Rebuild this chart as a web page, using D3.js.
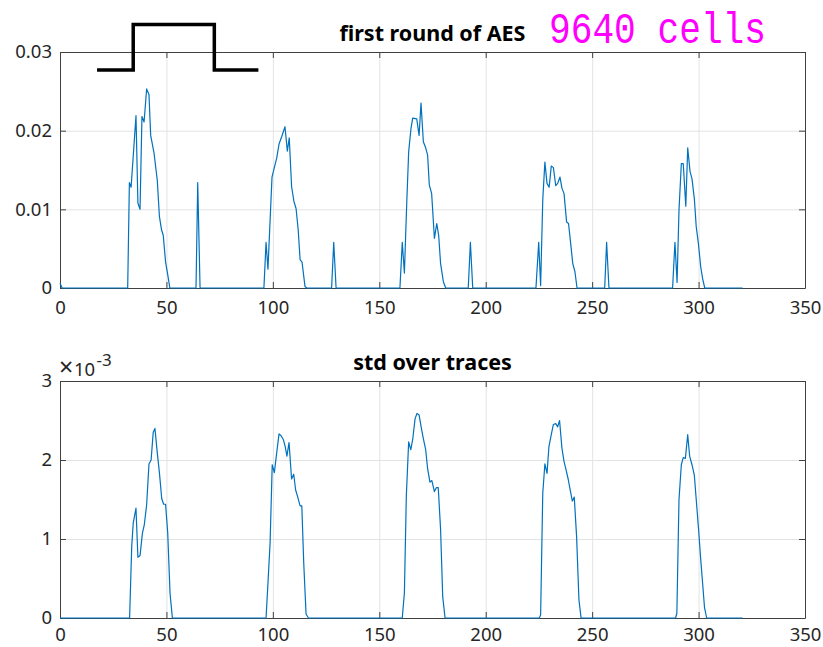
<!DOCTYPE html>
<html>
<head>
<meta charset="utf-8">
<script src="https://cdn.jsdelivr.net/npm/d3@7"></script>
<style>
  body { margin: 0; background: #fff; }
  text { font-family: "Noto Sans", "Open Sans", sans-serif; fill: #262626; }
  .grid line { stroke: #e3e3e3; stroke-width: 1; }
  .grid path { display: none; }
  .ax path, .ax line { stroke: #404040; stroke-width: 1; }
</style>
</head>
<body>
<div id="chart"></div>
<script>
// chart layout
const width = 823, height = 647;
const left = 60, right = 805;

// x ticks shared by both panels
const xTicks = [0, 50, 100, 150, 200, 250, 300, 350];

// first panel: polyline vertices
const topTicksY = [0, 0.01, 0.02, 0.03];
const topX = [0, 1,
  31.8, 32.6, 33.4, 35.7, 36.6, 37.6, 38.5, 39.5, 40.7, 41.8, 42.6, 44.2, 45.7, 46.7, 47.7, 48.5, 49.6, 50.5, 51.6,
  63.9, 64.7, 65.8,
  95.8, 96.8, 97.7, 99.6, 100.6, 101.8, 102.9, 104.1, 105.7, 106.8, 107.7, 108.8, 109.9, 110.9, 111.9, 112.8, 113.7, 115.1, 116,
  127.6, 128.6, 129.7,
  159.7, 160.8, 161.8, 162.9, 163.8, 164.9, 165.7, 167.6, 168.7, 169.6, 170.7, 171.7, 172.7, 173.5, 174.6, 175.9, 177.0, 177.9, 178.8, 180.1, 181.2,
  191.8, 192.8, 193.9,
  223.6, 224.9, 225.8, 226.8, 227.8, 228.8, 229.8, 230.8, 231.8, 232.9, 233.8, 234.9, 235.8, 236.8, 238.0, 238.9, 239.9, 240.9, 241.9, 242.9,
  255.9, 256.8, 257.9,
  287.8, 288.9, 289.9, 290.8, 291.9, 292.8, 294.0, 294.9, 296.0, 296.9, 298.0, 298.9, 299.9, 301.0, 301.9, 302.9,
  320.7];
const topY = [0.0006, 0,
  0, 0.0134, 0.0128, 0.0219, 0.0108, 0.0100, 0.0218, 0.0211, 0.0253, 0.0246, 0.0194, 0.0171, 0.0137, 0.0091, 0.0074, 0.0067, 0.0033, 0.0019, 0,
  0, 0.0134, 0,
  0, 0.0058, 0.0024, 0.0141, 0.0152, 0.0165, 0.0183, 0.0192, 0.0205, 0.0174, 0.0191, 0.0129, 0.0110, 0.0101, 0.0074, 0.0036, 0.0033, 0.0002, 0,
  0, 0.0058, 0,
  0, 0.0058, 0.0019, 0.0108, 0.0173, 0.0203, 0.0216, 0.0215, 0.0194, 0.0235, 0.0186, 0.0179, 0.0169, 0.0131, 0.0120, 0.0063, 0.0082, 0.0067, 0.0031, 0.0008, 0,
  0, 0.0058, 0,
  0, 0.0058, 0.0003, 0.0112, 0.0160, 0.0133, 0.0128, 0.0155, 0.0153, 0.0130, 0.0133, 0.0141, 0.0127, 0.0120, 0.0084, 0.0082, 0.0057, 0.0031, 0.0021, 0,
  0, 0.0058, 0,
  0, 0.0058, 0.0007, 0.0099, 0.0158, 0.0158, 0.0104, 0.0178, 0.0148, 0.0139, 0.0114, 0.0078, 0.0057, 0.0027, 0.0012, 0,
  0];

// clock-like step drawn above the first panel (in its data units)
const stepX = [17.4, 34.4, 34.4, 72.5, 72.5, 93.2];
const stepY = [0.0277, 0.0277, 0.0335, 0.0335, 0.0277, 0.0277];

// second panel, values in units of 1e-3
const botTicksY = [0, 1, 2, 3];
const botX = [0,
  32.7, 33.7, 34.4, 35.7, 36.6, 37.6, 38.7, 39.6, 40.7, 41.8, 42.8, 43.8, 44.6, 45.7, 46.7, 47.8, 48.7, 49.6, 50.6, 51.7, 52.8,
  96.8, 97.7, 98.7, 99.7, 100.7, 101.8, 102.9, 103.8, 104.9, 105.8, 106.6, 107.6, 108.8, 109.8, 110.7, 111.7, 112.8, 113.6, 114.5, 115.6, 116.7,
  160.8, 161.8, 162.7, 163.8, 164.8, 165.7, 166.8, 167.7, 168.7, 169.6, 170.7, 171.8, 172.7, 173.8, 174.7, 175.9, 176.8, 177.7, 178.8, 179.8, 180.9,
  225.2, 225.8, 226.8, 227.8, 228.8, 229.7, 230.8, 231.8, 232.9, 233.8, 234.7, 235.8, 236.8, 237.7, 238.8, 239.7, 240.7, 241.6, 242.7, 243.8, 244.8,
  289.2, 289.8, 290.8, 291.9, 292.8, 293.8, 294.9, 295.8, 296.9, 298.0, 298.9, 300.0, 300.9, 301.9, 302.8, 303.8,
  320.7];
const botY = [0,
  0, 0.91, 1.20, 1.39, 0.77, 0.79, 1.07, 1.18, 1.43, 1.95, 2.00, 2.35, 2.40, 2.09, 1.84, 1.51, 1.44, 1.44, 1.08, 0.31, 0,
  0, 0.44, 0.95, 1.94, 1.84, 2.09, 2.33, 2.31, 2.26, 2.17, 2.05, 2.22, 1.76, 1.82, 1.62, 1.53, 1.42, 1.42, 0.70, 0.05, 0,
  0, 0.32, 1.54, 2.23, 2.13, 2.26, 2.52, 2.59, 2.57, 2.43, 2.27, 2.13, 1.89, 1.72, 1.74, 1.60, 1.65, 1.65, 1.12, 0.27, 0,
  0, 0.04, 1.58, 1.95, 1.83, 2.17, 2.32, 2.45, 2.46, 2.42, 2.50, 2.15, 1.98, 1.88, 1.75, 1.62, 1.48, 1.53, 1.03, 0.23, 0,
  0, 0.06, 1.50, 1.94, 2.03, 2.02, 2.32, 2.05, 1.94, 1.81, 1.50, 1.12, 0.78, 0.44, 0.13, 0,
  0];

const svg = d3.select("#chart")
  .append("svg")
  .attr("width", width)
  .attr("height", height);

const x = d3.scaleLinear().domain([0, 350]).range([left, right]);

// draws one panel (grid, box, ticks, labels, trace)
function panel(top, bottom, yDomain, yTicks, yFmt, xs, ys, title, titleY, xPad) {
  let y = d3.scaleLinear().domain(yDomain).range([bottom, top]);
  let g = svg.append("g");

  // grid
  g.append("g").attr("class", "grid")
    .attr("transform", `translate(0,${bottom})`)
    .call(d3.axisBottom(x).tickValues(xTicks.slice(1, -1)).tickSize(-(bottom - top)).tickFormat(""));
  g.append("g").attr("class", "grid")
    .attr("transform", `translate(${left},0)`)
    .call(d3.axisLeft(y).tickValues(yTicks.slice(1, -1)).tickSize(-(right - left)).tickFormat(""));

  // box with inward ticks
  g.append("g").attr("class", "ax")
    .attr("transform", `translate(0,${bottom})`)
    .call(d3.axisBottom(x).tickValues(xTicks).tickSize(-6).tickSizeOuter(0).tickPadding(xPad))
    .call(a => a.selectAll("text").style("font-size", "18.5px"));
  g.append("g").attr("class", "ax")
    .attr("transform", `translate(0,${top})`)
    .call(d3.axisTop(x).tickValues(xTicks).tickSize(-6).tickSizeOuter(0).tickFormat(""));
  g.append("g").attr("class", "ax")
    .attr("transform", `translate(${left},0)`)
    .call(d3.axisLeft(y).tickValues(yTicks).tickSize(-6).tickSizeOuter(0).tickPadding(8).tickFormat(yFmt))
    .call(a => a.selectAll("text").style("font-size", "18.5px"));
  g.append("g").attr("class", "ax")
    .attr("transform", `translate(${right},0)`)
    .call(d3.axisRight(y).tickValues(yTicks).tickSize(-6).tickSizeOuter(0).tickFormat(""));

  // trace
  let line = d3.line()
    .x((d, i) => x(xs[i]))
    .y(d => y(d));
  g.append("path")
    .datum(ys)
    .attr("d", line)
    .attr("fill", "none")
    .attr("stroke", "#0072BD")
    .attr("stroke-width", 1.2)
    .attr("stroke-linejoin", "round");

  g.append("text")
    .attr("x", (left + right) / 2)
    .attr("y", titleY)
    .attr("text-anchor", "middle")
    .style("font-size", "21.5px")
    .style("font-weight", "bold")
    .style("fill", "#000")
    .text(title);

  return y;
}

const yTop = panel(52, 288, [0, 0.03], topTicksY, d => d === 0 ? "0" : d3.format(".2f")(d),
  topX, topY, "first round of AES", 41, 13);
panel(381, 618, [0, 3], botTicksY, d3.format("d"),
  botX, botY, "std over traces", 370, 10);

// exponent label of the second panel
const expo = svg.append("text")
  .attr("y", 376)
  .style("font-size", "18.5px");
expo.append("tspan").attr("x", 59).style("font-size", "25px").text("\u00d7");
expo.append("tspan").attr("x", 74).text("10");
expo.append("tspan").attr("x", 96.5).attr("dy", -10).style("font-size", "17px").text("-3");

// step annotation
svg.append("path")
  .datum(stepY)
  .attr("d", d3.line().x((d, i) => x(stepX[i])).y(d => yTop(d)))
  .attr("fill", "none")
  .attr("stroke", "#000")
  .attr("stroke-width", 3.5);

// cell count label
svg.append("text")
  .attr("x", 549)
  .attr("y", 43)
  .attr("textLength", 217)
  .attr("lengthAdjust", "spacingAndGlyphs")
  .style("font-family", "'Courier New', 'Liberation Mono', monospace")
  .style("font-size", "45px")
  .style("fill", "#ff00ff")
  .text("9640 cells");
</script>
</body>
</html>
